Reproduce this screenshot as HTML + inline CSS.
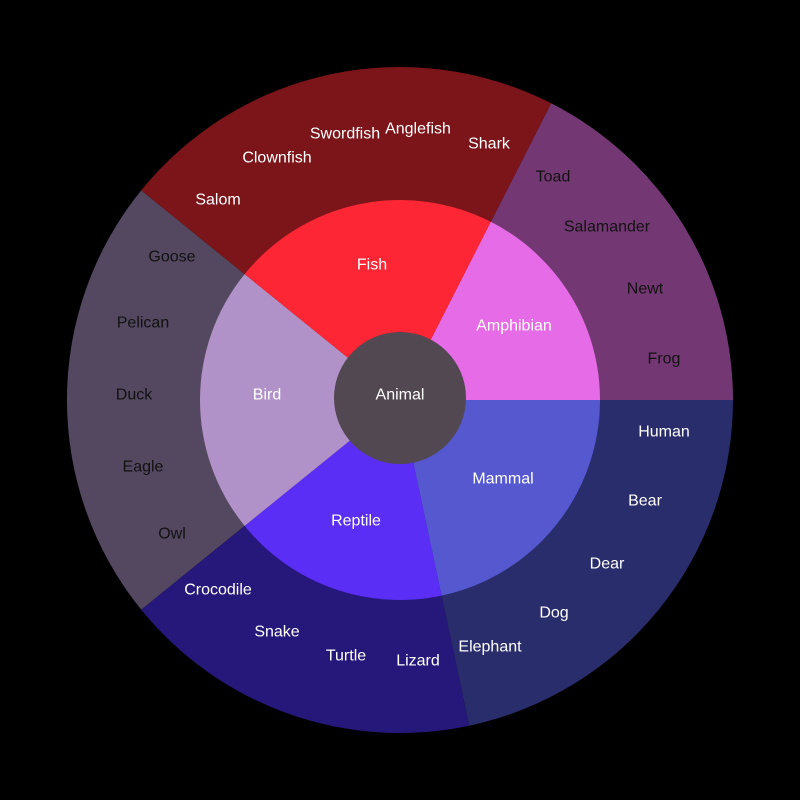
<!DOCTYPE html>
<html><head><meta charset="utf-8"><style>html,body{margin:0;padding:0;background:#000;}svg{display:block}</style></head>
<body>
<svg width="800" height="800" viewBox="0 0 800 800" xmlns="http://www.w3.org/2000/svg">
<rect width="800" height="800" fill="#000"/>
<path d="M400,400 L551.2,103.3 A333,333 0 0 1 733,400 Z" fill="#733873"/>
<path d="M400,400 L733,400 A333,333 0 0 1 469.2,725.7 Z" fill="#2a2d6b"/>
<path d="M400,400 L469.2,725.7 A333,333 0 0 1 141.2,609.6 Z" fill="#26187a"/>
<path d="M400,400 L141.2,609.6 A333,333 0 0 1 141.2,190.4 Z" fill="#544860"/>
<path d="M400,400 L141.2,190.4 A333,333 0 0 1 551.2,103.3 Z" fill="#7c1519"/>
<path d="M400,400 L490.8,221.8 A200,200 0 0 1 600,400 Z" fill="#e66be6"/>
<path d="M400,400 L600,400 A200,200 0 0 1 441.6,595.6 Z" fill="#5558cf"/>
<path d="M400,400 L441.6,595.6 A200,200 0 0 1 244.6,525.9 Z" fill="#5a2ef5"/>
<path d="M400,400 L244.6,525.9 A200,200 0 0 1 244.6,274.1 Z" fill="#b192c8"/>
<path d="M400,400 L244.6,274.1 A200,200 0 0 1 490.8,221.8 Z" fill="#fc2634"/>
<circle cx="400" cy="398" r="66" fill="#524852"/>
<g font-family="Liberation Sans, sans-serif" font-size="16" text-anchor="middle" dominant-baseline="central" transform="translate(0,1)">
<g fill="#fff">
<text x="400" y="394">Animal</text>
<text x="372" y="264">Fish</text>
<text x="514" y="325">Amphibian</text>
<text x="503" y="478">Mammal</text>
<text x="356" y="520">Reptile</text>
<text x="267" y="394">Bird</text>
<text x="218" y="199">Salom</text>
<text x="277" y="157">Clownfish</text>
<text x="345" y="133">Swordfish</text>
<text x="418" y="128">Anglefish</text>
<text x="489" y="143">Shark</text>
<text x="664" y="431">Human</text>
<text x="645" y="500">Bear</text>
<text x="607" y="563">Dear</text>
<text x="554" y="612">Dog</text>
<text x="490" y="646">Elephant</text>
<text x="418" y="660">Lizard</text>
<text x="346" y="655">Turtle</text>
<text x="277" y="631">Snake</text>
<text x="218" y="589">Crocodile</text>
</g>
<g fill="#111">
<text x="553" y="176">Toad</text>
<text x="607" y="226">Salamander</text>
<text x="645" y="288">Newt</text>
<text x="664" y="358">Frog</text>
<text x="172" y="256">Goose</text>
<text x="143" y="322">Pelican</text>
<text x="134" y="394">Duck</text>
<text x="143" y="466">Eagle</text>
<text x="172" y="533">Owl</text>
</g>
</g>
</svg>
</body></html>
